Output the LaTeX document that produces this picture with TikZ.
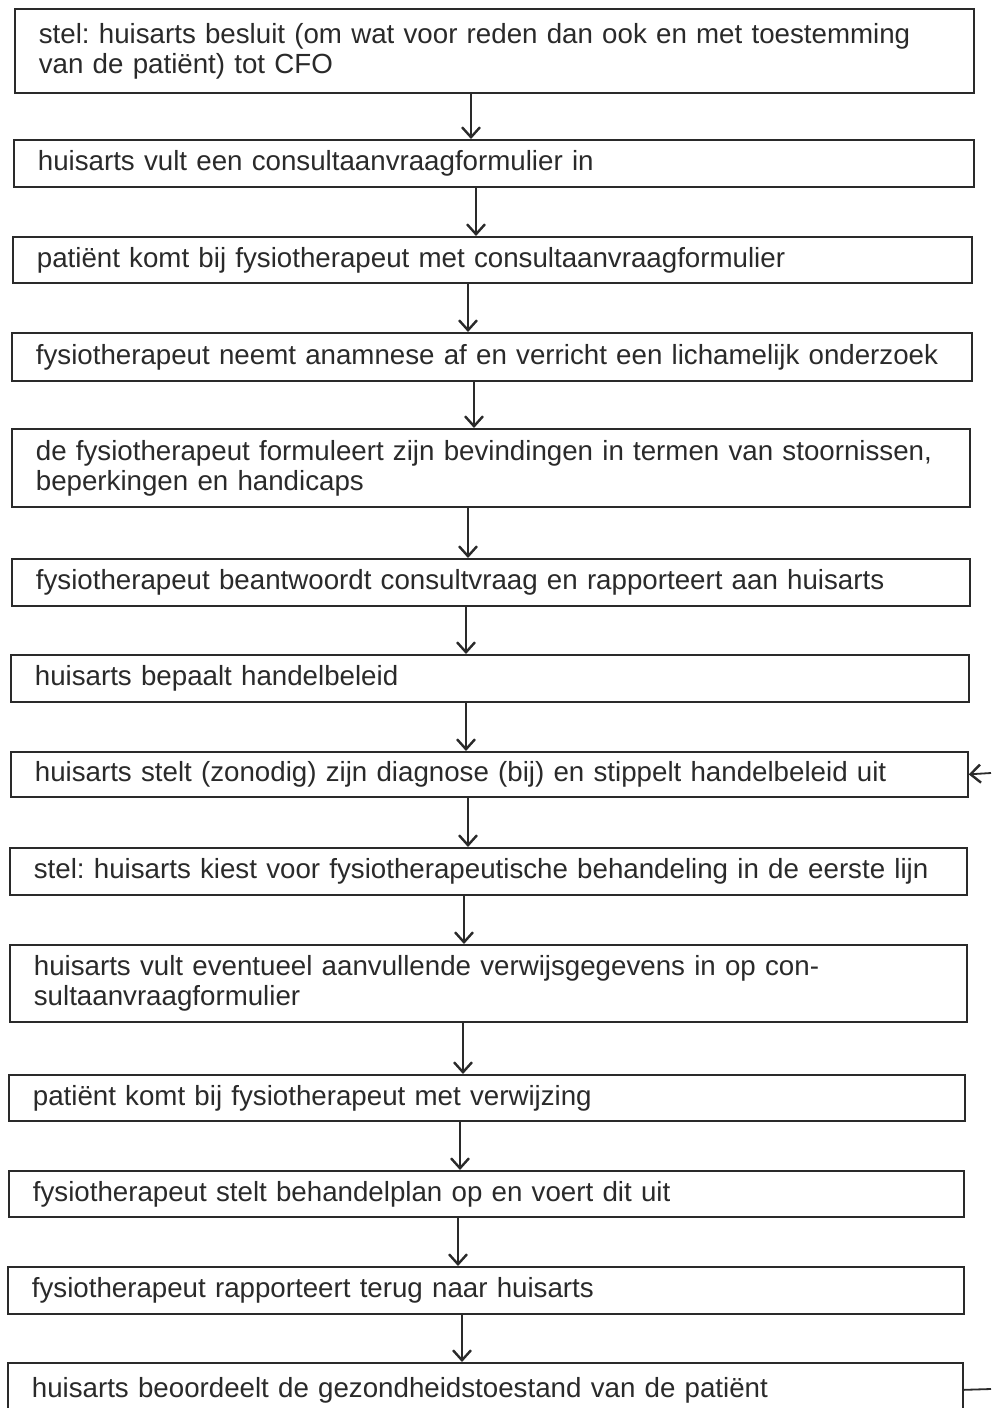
\documentclass[tikz,border=0pt]{standalone}
\usepackage{fontspec}
\setmainfont[WordSpace=1.5]{Liberation Sans}
\usetikzlibrary{arrows.meta}
\definecolor{ink}{HTML}{2A2A2A}
\tikzset{
  box/.style={draw=ink, line width=1.7pt, anchor=north west, inner xsep=22pt, inner ysep=0pt,
    align=left, font=\fontsize{27.7}{30}\selectfont\frenchspacing, text=ink},
  arr/.style={draw=ink, line width=1.8pt, -{Straight Barb[length=10pt,width=18pt,line width=2.4pt]}},
  plain/.style={draw=ink, line width=1.8pt}
}
\newcommand{\bx}[6]{% name, x1, y1, x2, y2, text
  \node[box, minimum width=#4pt-#2pt, minimum height=#5pt-#3pt, text width=#4pt-#2pt-44pt] (#1) at (#2,#3) {\hspace*{2pt}#6};}
\begin{document}
\begin{tikzpicture}[x=1pt,y=-1pt]
\useasboundingbox (0,0) rectangle (991,1408);
\clip (0,0) rectangle (991,1408);
\fill[white] (0,0) rectangle (991,1408);
\bx{b1}{14}{8}{973}{92}{stel: huisarts besluit (om wat voor reden dan ook en met toestemming\\\hspace*{2pt}van de patiënt) tot CFO}
\bx{b2}{13}{139}{973}{186}{huisarts vult een consultaanvraagformulier in}
\bx{b3}{12}{236}{971}{282}{patiënt komt bij fysiotherapeut met consultaanvraagformulier}
\bx{b4}{11}{332}{971}{380}{fysiotherapeut neemt anamnese af en verricht een lichamelijk onderzoek}
\bx{b5}{11}{428}{969}{506}{de fysiotherapeut formuleert zijn bevindingen in termen van stoornissen,\\\hspace*{2pt}beperkingen en handicaps}
\bx{b6}{11}{558}{969}{605}{fysiotherapeut beantwoordt consultvraag en rapporteert aan huisarts}
\bx{b7}{10}{654}{968}{701}{huisarts bepaalt handelbeleid}
\bx{b8}{10}{751}{967}{796}{huisarts stelt (zonodig) zijn diagnose (bij) en stippelt handelbeleid uit}
\bx{b9}{9}{847}{966}{894}{stel: huisarts kiest voor fysiotherapeutische behandeling in de eerste lijn}
\bx{b10}{9}{944}{966}{1021}{huisarts vult eventueel aanvullende verwijsgegevens in op con-\\\hspace*{2pt}sultaanvraagformulier}
\bx{b11}{8}{1074}{964}{1120}{patiënt komt bij fysiotherapeut met verwijzing}
\bx{b12}{8}{1170}{963}{1216}{fysiotherapeut stelt behandelplan op en voert dit uit}
\bx{b13}{7}{1266}{963}{1313}{fysiotherapeut rapporteert terug naar huisarts}
\bx{b14}{7}{1362}{962}{1416}{huisarts beoordeelt de gezondheidstoestand van de patiënt}
\coordinate (a1) at (471,0);
\coordinate (a2) at (476,0);
\coordinate (a3) at (468,0);
\coordinate (a4) at (474,0);
\coordinate (a5) at (468,0);
\coordinate (a6) at (466,0);
\coordinate (a7) at (466,0);
\coordinate (a8) at (468,0);
\coordinate (a9) at (464,0);
\coordinate (a10) at (463,0);
\coordinate (a11) at (460,0);
\coordinate (a12) at (458,0);
\coordinate (a13) at (462,0);
\draw[arr] (b1.south -| a1) -- (b2.north -| a1);
\draw[arr] (b2.south -| a2) -- (b3.north -| a2);
\draw[arr] (b3.south -| a3) -- (b4.north -| a3);
\draw[arr] (b4.south -| a4) -- (b5.north -| a4);
\draw[arr] (b5.south -| a5) -- (b6.north -| a5);
\draw[arr] (b6.south -| a6) -- (b7.north -| a6);
\draw[arr] (b7.south -| a7) -- (b8.north -| a7);
\draw[arr] (b8.south -| a8) -- (b9.north -| a8);
\draw[arr] (b9.south -| a9) -- (b10.north -| a9);
\draw[arr] (b10.south -| a10) -- (b11.north -| a10);
\draw[arr] (b11.south -| a11) -- (b12.north -| a11);
\draw[arr] (b12.south -| a12) -- (b13.north -| a12);
\draw[arr] (b13.south -| a13) -- (b14.north -| a13);
\coordinate (r8) at (991,773);
\coordinate (r14) at (991,1389);
\draw[arr] (r8) -- (b8.east);
\draw[plain] (r14) -- (b14.east);
\end{tikzpicture}
\end{document}
